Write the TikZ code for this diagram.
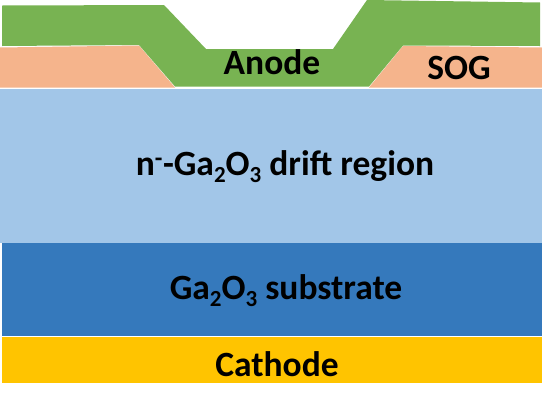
\documentclass[tikz,border=0pt]{standalone}
\usepackage{fontspec}
\setmainfont{Carlito}
\definecolor{gr}{HTML}{78B352}
\definecolor{sal}{HTML}{F5B48C}
\definecolor{lb}{HTML}{A2C6E8}
\definecolor{db}{HTML}{3579BC}
\definecolor{yl}{HTML}{FFC400}
\newcommand{\dn}[1]{\raisebox{-0.2em}{\fontsize{23}{25}\selectfont #1}}
\tikzset{lab/.style={font=\bfseries\fontsize{35.5}{38}\selectfont,text=black,inner sep=0pt,anchor=base}}
\begin{document}
\begin{tikzpicture}[x=1pt,y=-1pt]
\useasboundingbox (0,0) rectangle (542,405);
\fill[white] (0,0) rectangle (542,405);
\fill[lb] (0,89) rectangle (542,243);
\fill[db] (2,243) rectangle (542,336);
\fill[yl] (2,337) rectangle (542,383);
\fill[sal] (0,47.5) -- (139,45.5) -- (175,87.5) -- (0,87.5) -- cycle;
\fill[sal] (403,46) -- (542,47.5) -- (542,87.5) -- (369,87.5) -- cycle;
\fill[gr] (2,5.5) -- (164,5) -- (206,49) -- (333,49) -- (367,0) -- (540,2.5) -- (540,46) -- (403,45.5) -- (369,86.5) -- (175,86.5) -- (139,45) -- (2,46) -- cycle;
\node[lab] (anode) at (272,74.5) {Anode};
\node[lab] (sog) at (459,79.5) {SOG};
\node[lab] (drift) at (285,175.5) {n\textsuperscript{-}-Ga\dn{2}O\dn{3} drift region};
\node[lab] (sub) at (286,299.5) {Ga\dn{2}O\dn{3} substrate};
\node[lab] (cath) at (277,376) {Cathode};
\end{tikzpicture}
\end{document}
